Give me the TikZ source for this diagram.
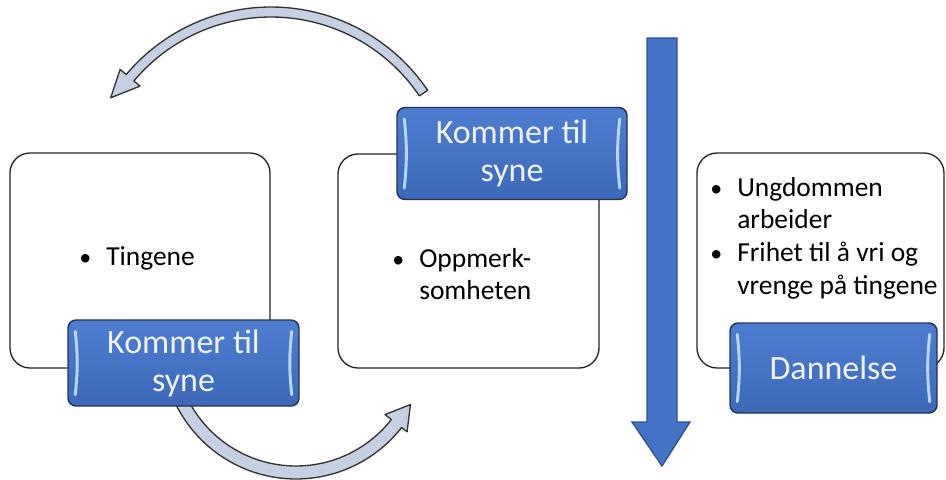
\documentclass[tikz,border=0pt]{standalone}
\usepackage{fontspec}
\setmainfont{Carlito}
\usetikzlibrary{calc}

\definecolor{boxblue}{HTML}{4472C4}
\definecolor{boxbluetop}{HTML}{4E7DD0}
\definecolor{boxbluebot}{HTML}{3D68B8}
\definecolor{bluerim}{HTML}{24344F}
\definecolor{glint}{HTML}{B8D6F7}
\definecolor{tabtext}{HTML}{EEF3FB}
\definecolor{arcfill}{HTML}{C7D0E3}
\definecolor{arcrim}{HTML}{333333}
\definecolor{downrim}{HTML}{2F528F}

\tikzset{
  card/.style={draw=black!85, line width=1pt, fill=white, rounded corners=15pt, inner sep=0pt},
  tab/.style={draw=bluerim, line width=1.1pt, top color=boxbluetop, bottom color=boxbluebot,
    rounded corners=6pt, inner sep=0pt, align=center, text=tabtext,
    font=\fontsize{25.5}{28.5}\selectfont},
  glintline/.style={draw=glint, line width=2.2pt, line cap=round},
  bodytext/.style={inner sep=0pt, anchor=base west, font=\fontsize{20.6}{24.5}\selectfont},
  loop/.style={draw=arcrim, line width=1pt, fill=arcfill, line join=round},
  downarrow/.style={draw=downrim, line width=1pt, fill=boxblue},
}

\newcommand{\dotmark}{{\fontsize{18}{18}\selectfont\textbullet}}
\newcommand{\itemrow}[1]{\begin{tabular}[t]{@{}p{20.25pt}@{}l@{}}#1\end{tabular}}

\begin{document}
\begin{tikzpicture}[x=0.75pt,y=-0.75pt]
\useasboundingbox (0,0) rectangle (946,479);

% white cards
\node[card, minimum width=195pt, minimum height=161.25pt] (c1) at (140,260.5) {};
\node[card, minimum width=195.75pt, minimum height=160.5pt] (c2) at (468.5,261) {};
\node[card, minimum width=185.25pt, minimum height=161.25pt] (c3) at (820.5,260.5) {};

% bullet texts
\node[bodytext] (t1) at (79,265) {\itemrow{\dotmark & Tingene}};
\node[bodytext] (t2) at (392,267) {\itemrow{\dotmark & Oppmerk-\\ & somheten}};
\node[bodytext] (t3) at (710,196) {\itemrow{\dotmark & Ungdommen\\ & arbeider\\ \dotmark & Frihet til å vri og\\ & vrenge på tingene}};

% upper curved arrow, running right to left
\draw[loop] plot[domain=-34:-140,samples=60] ({271+189*cos(\x)},{196+189*sin(\x)})
  -- ({271+197*cos(-140)},{196+197*sin(-140)})
  -- ({271+188*cos(-148.5)},{196+188*sin(-148.5)})
  -- ({271+171*cos(-140)},{196+171*sin(-140)})
  -- plot[domain=-140:-34,samples=60] ({271+179*cos(\x)},{196+179*sin(\x)}) -- cycle;

% lower curved arrow, running left to right
\draw[loop] plot[domain=160:38,samples=60] ({296+134*cos(\x)},{345+134*sin(\x)})
  -- ({296+141*cos(38)},{345+141*sin(38)})
  -- ({296+129*cos(27.5)},{345+129*sin(27.5)})
  -- ({296+113*cos(38)},{345+113*sin(38)})
  -- plot[domain=38:160,samples=60] ({296+121*cos(\x)},{345+121*sin(\x)}) -- cycle;

% long downward arrow
\draw[downarrow] (647,38) -- (677,38) -- (677,422) -- (690,422) -- (662,466)
  -- (632,422) -- (647,422) -- cycle;

% blue tabs
\node[tab, minimum width=173.25pt, minimum height=64.5pt] (k1) at (183.5,363) {Kommer til\\syne};
\node[tab, minimum width=172.5pt, minimum height=69pt] (k2) at (512,153.5) {Kommer til\\syne};
\node[tab, minimum width=155.25pt, minimum height=67.5pt] (k3) at (833.5,368) {Dannelse};

\foreach \k in {k1,k2,k3}{
  \draw[glintline] ([xshift=6pt,yshift=-9pt]\k.north west) to[bend left=6] ([xshift=6pt,yshift=9pt]\k.south west);
  \draw[glintline] ([xshift=-6pt,yshift=-9pt]\k.north east) to[bend right=6] ([xshift=-6pt,yshift=9pt]\k.south east);
}
\end{tikzpicture}
\end{document}
